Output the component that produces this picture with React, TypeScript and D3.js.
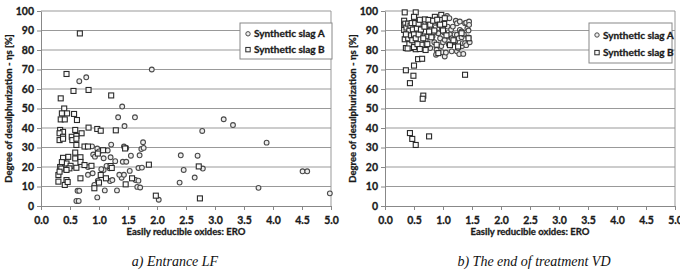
import React, { useRef, useEffect } from "react";
import * as d3 from "d3";

// Entrance LF (panel a)
const entranceSlagA: [number, number][] = [
  [0.61, 2.6], [0.65, 2.6], [0.63, 7.8], [0.66, 7.8], [0.97, 4.4], [1.1, 8], [1.31, 8], [1.66, 9.8],
  [0.92, 10.8], [0.98, 13], [1.19, 12.8], [1.23, 13.3], [1.39, 14.5], [1.63, 13.3], [1.43, 16],
  [0.81, 16], [0.89, 16.8], [1.08, 18.5], [1.18, 19.3], [1.53, 18], [1.68, 19.5], [1.74, 19.7],
  [0.81, 20], [1.04, 18.9], [1.13, 20.6], [0.9, 26.4], [0.93, 25.3], [1.08, 24.5], [1.2, 25],
  [1.28, 23], [1.41, 22.7], [1.47, 22.7], [1.55, 25.8], [1.7, 26], [0.88, 30.6], [0.97, 29.5],
  [1.21, 31.5], [1.43, 30.5], [1.47, 29.8], [1.73, 29.2], [1.77, 29.8], [1.76, 32.7], [1.44, 41],
  [1.33, 45.5], [1.62, 45.5], [1.4, 51], [0.66, 64], [0.78, 66], [1.91, 70], [3.15, 44.5],
  [3.31, 41.5], [2.78, 38.5], [3.89, 32.5], [2.41, 26], [2.7, 25.8], [2.79, 19.2], [2.46, 18.5],
  [2.65, 14.6], [2.39, 12], [1.68, 13], [1.71, 9.5], [4.51, 17.8], [4.59, 17.8], [3.75, 9.3],
  [4.98, 6.5], [2.03, 3.2], [1.35, 16], [1.0, 28], [1.15, 28.5],
];
const entranceSlagB: [number, number][] = [
  [0.67, 88.5], [0.44, 67.7], [0.56, 59], [0.82, 59.5], [1.21, 56.7], [0.34, 55.2], [0.4, 50],
  [0.36, 47.5], [0.45, 47.5], [0.57, 47.2], [0.34, 44.4], [0.41, 44.4], [0.62, 44.1], [0.82, 40.2],
  [0.97, 39.5], [1.03, 38.6], [1.29, 38.8], [0.33, 39], [0.38, 38], [0.59, 39], [0.32, 37.3],
  [0.7, 37.3], [0.38, 35.5], [0.53, 35.5], [0.61, 35.9], [0.32, 33.8], [0.38, 34.5], [0.54, 33.8],
  [0.61, 34.5], [0.61, 31.3], [0.75, 30.5], [0.81, 30.5], [1.07, 28.6], [1.45, 29.5], [0.59, 27.4],
  [0.98, 26.9], [0.47, 25.2], [0.38, 24.7], [0.59, 24.4], [0.68, 25], [0.68, 22.6], [0.75, 21],
  [0.44, 21.8], [0.51, 20.6], [0.33, 20], [0.35, 19.2], [0.61, 19.6], [0.87, 20.6], [1.2, 20.5],
  [1.22, 19.5], [0.3, 15.9], [0.32, 17.6], [0.3, 12.5], [0.44, 13.3], [0.41, 10.8], [0.49, 19.3],
  [0.44, 18.5], [0.68, 14.2], [1.03, 15.9], [0.92, 9.1], [1.0, 12], [1.12, 14.2], [1.46, 11.1],
  [1.57, 14.2], [1.86, 21.2], [1.98, 5.3], [2.74, 3.9], [2.72, 20.3], [0.46, 12.3], [0.36, 22.5],
];

// End of treatment VD (panel b)
const endVdSlagA: [number, number][] = [
  [0.62, 93], [0.65, 90.3], [0.68, 88], [0.7, 85], [0.73, 92.3], [0.75, 95], [0.78, 81], [0.8, 91.2],
  [0.82, 87], [0.85, 84], [0.86, 94], [0.88, 77.6], [0.89, 80.1], [0.9, 89], [0.92, 88.6], [0.93, 93],
  [0.95, 86], [0.97, 82], [0.98, 91.2], [0.98, 78.9], [1.0, 84], [1.02, 89], [1.03, 85.2], [1.03, 76.7],
  [1.05, 78.7], [1.07, 97.4], [1.08, 92], [1.09, 86.9], [1.1, 83], [1.11, 96.3], [1.12, 88],
  [1.14, 90.5], [1.15, 86], [1.15, 79.3], [1.17, 92], [1.18, 84], [1.2, 88], [1.21, 84.4], [1.22, 95],
  [1.24, 93.7], [1.24, 87.8], [1.24, 79.3], [1.26, 81], [1.27, 86], [1.28, 77.9], [1.29, 94.6],
  [1.29, 90.3], [1.32, 89.5], [1.32, 86.6], [1.33, 82], [1.34, 83.5], [1.35, 78], [1.36, 88],
  [1.38, 93.7], [1.38, 83.5], [1.4, 94], [1.4, 82.5], [1.42, 91], [1.44, 90], [1.44, 86.4],
  [1.45, 94.6], [1.45, 92.9], [1.46, 84], [0.58, 75.3], [0.66, 83], [0.72, 87], [0.76, 89.5],
];
const endVdSlagB: [number, number][] = [
  [0.34, 99.3], [0.53, 99.3], [0.33, 95], [0.33, 92.9], [0.33, 90.3], [0.34, 85.5], [0.36, 81],
  [0.43, 81], [0.36, 69.6], [0.49, 66.8], [0.43, 63], [0.5, 72], [0.57, 75.3], [0.64, 75.5],
  [0.66, 56.6], [0.65, 55], [1.38, 67.3], [0.53, 80.4], [0.69, 95.7], [0.75, 95.4], [0.86, 97],
  [0.97, 98], [0.69, 89.5], [0.76, 89.5], [0.63, 82.7], [0.73, 83], [0.89, 82.7], [0.92, 78.4],
  [1.26, 81.8], [1.32, 88.6], [1.44, 86], [1.02, 93.4], [1.03, 96.3], [0.35, 93.5], [0.37, 91.5],
  [0.38, 88], [0.4, 93.5], [0.4, 86], [0.42, 90], [0.42, 83], [0.44, 92.5], [0.45, 87.5],
  [0.46, 93.8], [0.47, 85], [0.48, 90.5], [0.5, 88], [0.5, 81.5], [0.52, 93.8], [0.53, 86],
  [0.55, 91], [0.56, 83], [0.58, 93.5], [0.58, 88], [0.6, 80.5], [0.62, 90.5], [0.66, 86],
  [0.68, 92], [0.7, 80], [0.78, 93], [0.8, 86.5], [0.83, 95], [0.85, 90], [0.9, 95.5], [0.95, 93],
  [1.0, 90], [1.06, 87.5], [1.12, 82.5], [1.18, 85], [0.36, 88], [0.39, 80.8], [0.5, 97], [0.6, 95.5],
  [0.43, 37.4], [0.47, 34.4], [0.53, 31.3], [0.76, 35.7],
];

const xTicks = d3.range(0, 5.01, 0.5);
const yTicks = d3.range(0, 101, 10);
const seriesNames = ["Synthetic slag A", "Synthetic slag B"];
const captions = ["a) Entrance LF", "b) The end of treatment VD"];
const xTitle = "Easily reducible oxides: ERO";
const yTitle = "Degree of desulphurization - ηs [%]";

const W = 680;
const H = 275;
const FONT = "Lato, sans-serif";
const INK = "#1a1a1a";

const panels = [
  { x0: 41, x1: 331, a: entranceSlagA, b: entranceSlagB, caption: captions[0], capX: 175, legend: { x: 240, y: 23, w: 92, h: 36 } },
  { x0: 385, x1: 675, a: endVdSlagA, b: endVdSlagB, caption: captions[1], capX: 534, legend: { x: 589, y: 23, w: 83, h: 40 } },
];

// heavier look for the bold labels
const boldText = (sel: any, size: number) =>
  sel
    .attr("font-family", FONT)
    .attr("font-weight", "bold")
    .attr("font-size", size)
    .attr("fill", INK)
    .attr("stroke", INK)
    .attr("stroke-width", 0.3);

const App = () => {
  const svgRef = useRef<SVGSVGElement>(null);

  useEffect(() => {
    const svg = d3.select(svgRef.current);
    svg.selectAll("*").remove();
    svg.append("rect").attr("width", W).attr("height", H).attr("fill", "#fff");

    panels.forEach((p) => {
      const x = d3.scaleLinear().domain([0, 5]).range([p.x0, p.x1]);
      const y = d3.scaleLinear().domain([0, 100]).range([206, 11]);
      const g = svg.append("g");

      // gridlines
      g.selectAll(".grid")
        .data(yTicks.filter((t) => t > 0))
        .enter()
        .append("line")
        .attr("x1", p.x0)
        .attr("x2", p.x1)
        .attr("y1", (d) => y(d))
        .attr("y2", (d) => y(d))
        .attr("stroke", "#999")
        .attr("stroke-width", 1);

      // right edge of the plot frame
      g.append("line")
        .attr("x1", p.x1).attr("x2", p.x1)
        .attr("y1", y(100)).attr("y2", y(0))
        .attr("stroke", "#999");

      // axes
      const xAxis = g.append("g")
        .attr("transform", `translate(0,${y(0)})`)
        .call(d3.axisBottom(x).tickValues(xTicks).tickSize(4).tickSizeOuter(0).tickFormat(d3.format(".1f")));
      const yAxis = g.append("g")
        .attr("transform", `translate(${p.x0},0)`)
        .call(d3.axisLeft(y).tickValues(yTicks).tickSize(4).tickSizeOuter(0));
      [xAxis, yAxis].forEach((ax) => {
        ax.select(".domain").attr("stroke", "#888");
        ax.selectAll(".tick line").attr("stroke", "#888");
        boldText(ax.selectAll("text"), 10.5);
      });
      xAxis.selectAll("text").attr("dy", "1.05em");

      // titles
      boldText(g.append("text"), 9.5)
        .attr("x", (p.x0 + p.x1) / 2)
        .attr("y", 235)
        .attr("text-anchor", "middle")
        .text(xTitle);
      boldText(g.append("text"), 9.5)
        .attr("transform", `translate(${p.x0 - 29},${(y(0) + y(100)) / 2}) rotate(-90)`)
        .attr("text-anchor", "middle")
        .text(yTitle);
      g.append("text")
        .attr("x", p.capX)
        .attr("y", 266)
        .attr("text-anchor", "middle")
        .attr("font-family", "'Liberation Serif', 'DejaVu Serif', serif")
        .attr("font-style", "italic")
        .attr("font-size", 14)
        .attr("fill", "#111")
        .text(p.caption);

      // slag A circles
      g.selectAll(".ptA")
        .data(p.a)
        .enter()
        .append("circle")
        .attr("cx", (d) => x(d[0]))
        .attr("cy", (d) => y(d[1]))
        .attr("r", 2.4)
        .attr("fill", "#eee")
        .attr("stroke", "#4a4a4a")
        .attr("stroke-width", 1.1);

      // slag B squares
      g.selectAll(".ptB")
        .data(p.b)
        .enter()
        .append("rect")
        .attr("x", (d) => x(d[0]) - 2.5)
        .attr("y", (d) => y(d[1]) - 2.5)
        .attr("width", 5)
        .attr("height", 5)
        .attr("fill", "#fafafa")
        .attr("stroke", "#2a2a2a")
        .attr("stroke-width", 1.1);

      // legend
      const lg = g.append("g").attr("transform", `translate(${p.legend.x},${p.legend.y})`);
      lg.append("rect")
        .attr("width", p.legend.w)
        .attr("height", p.legend.h)
        .attr("fill", "#fff")
        .attr("stroke", "#888");
      const rowY = [p.legend.h * 0.3, p.legend.h * 0.74];
      lg.append("circle")
        .attr("cx", 8).attr("cy", rowY[0]).attr("r", 2.2)
        .attr("fill", "#eee").attr("stroke", "#4a4a4a");
      lg.append("rect")
        .attr("x", 5.8).attr("y", rowY[1] - 2.2).attr("width", 4.4).attr("height", 4.4)
        .attr("fill", "#fafafa").attr("stroke", "#2a2a2a");
      seriesNames.forEach((name, i) => {
        boldText(lg.append("text"), 10)
          .attr("x", 14)
          .attr("y", rowY[i])
          .attr("dy", "0.35em")
          .text(name);
      });
    });
  }, []);

  return (
    <div style={{ position: "absolute", left: 0, top: 0 }}>
      <svg ref={svgRef} width={W} height={H} style={{ display: "block" }} />
    </div>
  );
};

export default App;
